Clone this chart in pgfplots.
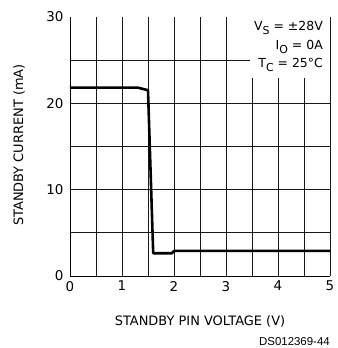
\documentclass[border=0pt]{standalone}
\usepackage{pgfplots}
\pgfplotsset{compat=1.18}
\usepackage{fontspec}
\setmainfont{DejaVu Sans}
\newfontfamily\arialfont{Liberation Sans}
\newcommand{\sub}[1]{\raisebox{-0.45ex}{\fontsize{11}{12}\selectfont #1}}
\begin{document}
\begin{tikzpicture}
\begin{axis}[
  at={(0,0)}, anchor=south west, scale only axis,
  width=260bp, height=259.3bp,
  xmin=0, xmax=5, ymin=0, ymax=30,
  axis lines*=left,
  axis line style={-, line width=0.8pt, black},
  xtick={0,1,2,3,4,5},
  minor xtick={0.5,1.5,2.5,3.5,4.5},
  ytick={0,10,20},
  minor ytick={5,15,25},
  extra y ticks={30},
  extra y tick style={grid=none},
  grid=both,
  major grid style={black!90, line width=0.75pt},
  minor grid style={black!90, line width=0.75pt},
  major tick length=0pt, minor tick length=0pt,
  /pgf/number format/assume math mode=true,
  tick label style={font=\fontsize{13.5}{15}\selectfont},
  yticklabel style={xshift=-3bp},
  xticklabel style={yshift=-1.5bp},
  label style={font=\fontsize{13}{15}\selectfont},
  xlabel={STANDBY PIN VOLTAGE (V)},
  ylabel={STANDBY CURRENT (mA)},
  xlabel style={at={(axis description cs:0.5,-0.177)}, anchor=center},
  ylabel style={at={(axis description cs:-0.196,0.505)}, anchor=center},
  clip=false,
]
\fill[white] (axis cs:3.47,22.9) rectangle (axis cs:5,30);
\addplot[black, line width=2.6pt, line join=round] coordinates {
  (0,21.8) (1.3,21.8) (1.5,21.5) (1.6,2.63) (1.96,2.63) (2.0,2.9) (5,2.9)
};
\end{axis}
\begin{scope}[font=\fontsize{12.5}{14}\selectfont]
\node[anchor=base east, inner sep=0pt] at (253bp,245bp) {V\sub{S} = ±28V};
\node[anchor=base east, inner sep=0pt] at (253bp,226bp) {I\sub{O} = 0A};
\node[anchor=base east, inner sep=0pt] at (253bp,208bp) {T\sub{C} = 25°C};
\end{scope}
\node[anchor=east, inner sep=0pt, font=\arialfont\fontsize{11.5}{13}\selectfont] at (260bp,-65.5bp) {DS012369-44};
\path[use as bounding box] (-70bp,-72bp) rectangle (262bp,276bp);
\end{tikzpicture}
\end{document}
